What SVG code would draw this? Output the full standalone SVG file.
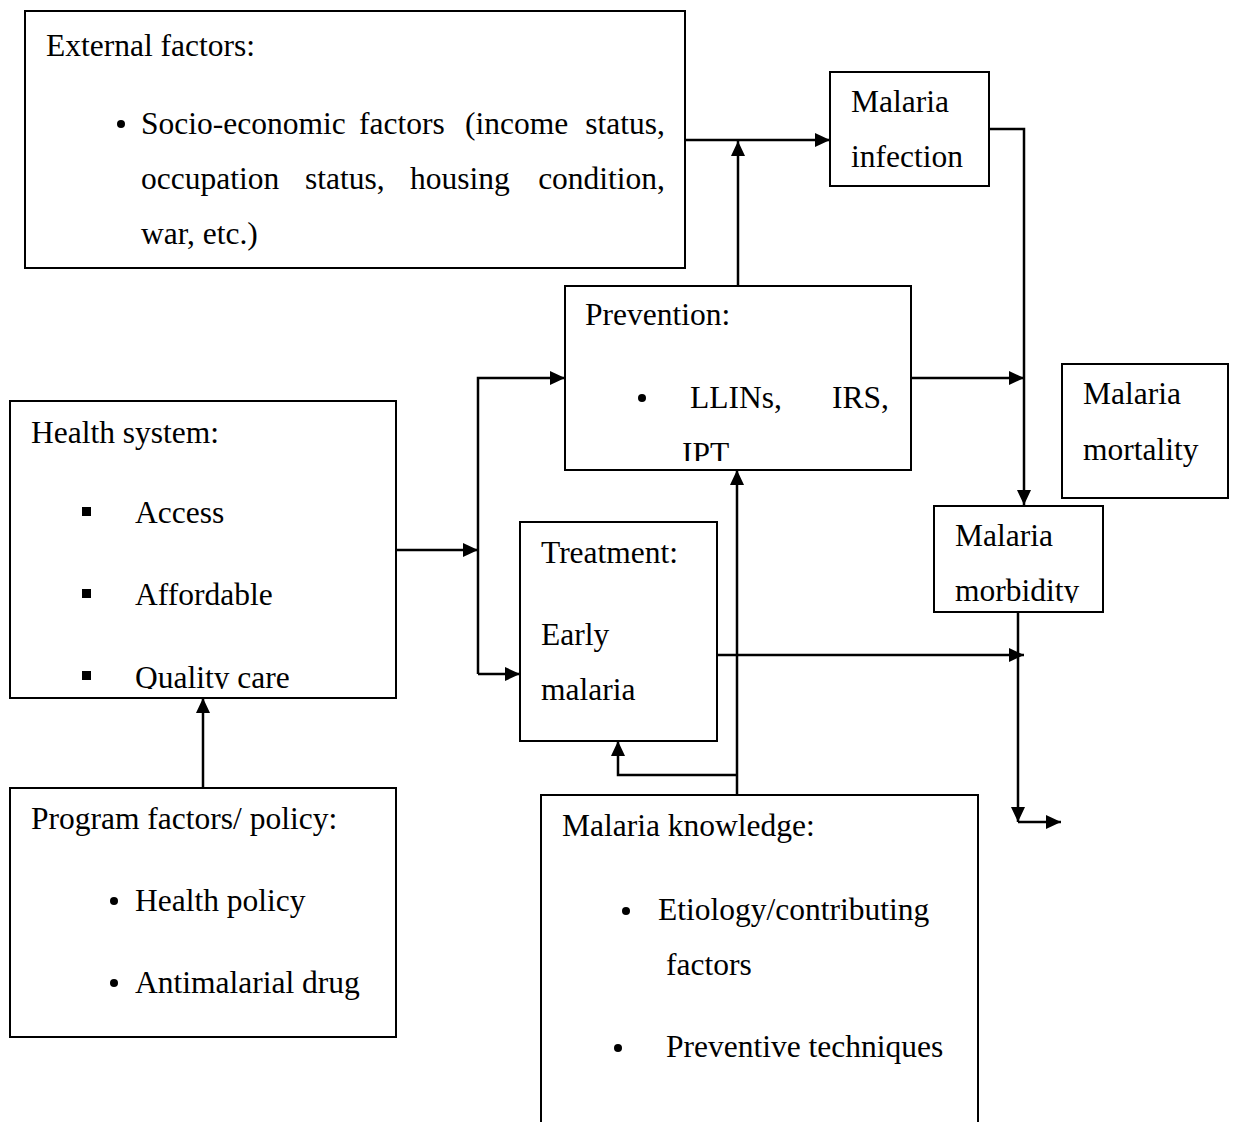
<svg xmlns="http://www.w3.org/2000/svg" width="1235" height="1122" viewBox="0 0 1235 1122">
<style>
.box{fill:#fff;stroke:#000;stroke-width:2}
.t{font-family:"Liberation Serif","Times New Roman",serif;font-size:31.5px;fill:#000}
.e{text-anchor:end}
.c{fill:none;stroke:#000;stroke-width:2.5}
.b{fill:#000}
</style>
<defs>
<marker id="ah" markerUnits="userSpaceOnUse" markerWidth="16" markerHeight="14" refX="15" refY="7" orient="auto">
<path d="M0,0 L15,7 L0,14 z" fill="#000"/>
</marker>
<clipPath id="clipHealth"><rect x="10" y="401" width="386" height="288"/></clipPath>
<clipPath id="clipPrev"><rect x="565" y="286" width="346" height="175"/></clipPath>
<clipPath id="clipMorb"><rect x="934" y="506" width="169" height="97"/></clipPath>
</defs>
<rect width="1235" height="1122" fill="#fff"/>

<g id="connectors">
<path class="c" d="M685,140 H830" marker-end="url(#ah)"/>
<path class="c" d="M738,286 V141" marker-end="url(#ah)"/>
<path class="c" d="M989,129 H1024 V505" marker-end="url(#ah)"/>
<path class="c" d="M911,378 H1024" marker-end="url(#ah)"/>
<path class="c" d="M396,550 H478" marker-end="url(#ah)"/>
<path class="c" d="M478,674 V378 H565" marker-end="url(#ah)"/>
<path class="c" d="M478,674 H520" marker-end="url(#ah)"/>
<path class="c" d="M717,655 H1024" marker-end="url(#ah)"/>
<path class="c" d="M1018,612 V822" marker-end="url(#ah)"/>
<path class="c" d="M1018,822 H1061" marker-end="url(#ah)"/>
<path class="c" d="M737,812 V470" marker-end="url(#ah)"/>
<path class="c" d="M737,775 H618 V741" marker-end="url(#ah)"/>
<path class="c" d="M203,788 V698" marker-end="url(#ah)"/>
</g>

<g id="external">
<rect class="box" x="25" y="11" width="660" height="257"/>
<text class="t" x="46" y="56">External factors:</text>
<circle class="b" cx="121" cy="124" r="4"/>
<text class="t" x="141" y="134">Socio-economic</text>
<text class="t" x="359" y="134">factors</text>
<text class="t" x="465" y="134">(income</text>
<text class="t e" x="665" y="134">status,</text>
<text class="t" x="141" y="189">occupation</text>
<text class="t" x="305" y="189">status,</text>
<text class="t" x="410" y="189">housing</text>
<text class="t e" x="665" y="189">condition,</text>
<text class="t" x="141" y="244">war, etc.)</text>
</g>

<g id="infection">
<rect class="box" x="830" y="72" width="159" height="114"/>
<text class="t" x="851" y="112">Malaria</text>
<text class="t" x="851" y="167">infection</text>
</g>

<g id="prevention">
<rect class="box" x="565" y="286" width="346" height="184"/>
<text class="t" x="585" y="325">Prevention:</text>
<circle class="b" cx="642" cy="398" r="4"/>
<text class="t" x="690" y="408">LLINs,</text>
<text class="t e" x="889" y="408">IRS,</text>
<g clip-path="url(#clipPrev)"><text class="t" x="682" y="464">IPT</text></g>
</g>

<g id="mortality">
<rect class="box" x="1062" y="364" width="166" height="134"/>
<text class="t" x="1083" y="404">Malaria</text>
<text class="t" x="1083" y="460">mortality</text>
</g>

<g id="morbidity">
<rect class="box" x="934" y="506" width="169" height="106"/>
<text class="t" x="955" y="546">Malaria</text>
<g clip-path="url(#clipMorb)"><text class="t" x="955" y="601">morbidity</text></g>
</g>

<g id="health">
<rect class="box" x="10" y="401" width="386" height="297"/>
<text class="t" x="31" y="443">Health system:</text>
<rect class="b" x="82" y="507" width="9" height="9"/>
<text class="t" x="135" y="523">Access</text>
<rect class="b" x="82" y="589" width="9" height="9"/>
<text class="t" x="135" y="605">Affordable</text>
<rect class="b" x="82" y="671" width="9" height="9"/>
<g clip-path="url(#clipHealth)"><text class="t" x="135" y="688">Quality care</text></g>
</g>

<g id="treatment">
<rect class="box" x="520" y="522" width="197" height="219"/>
<text class="t" x="541" y="563">Treatment:</text>
<text class="t" x="541" y="645">Early</text>
<text class="t" x="541" y="700">malaria</text>
</g>

<g id="program">
<rect class="box" x="10" y="788" width="386" height="249"/>
<text class="t" x="31" y="829">Program factors/ policy:</text>
<circle class="b" cx="114" cy="901" r="4"/>
<text class="t" x="135" y="911">Health policy</text>
<circle class="b" cx="114" cy="983" r="4"/>
<text class="t" x="135" y="993">Antimalarial drug</text>
</g>

<g id="knowledge">
<path class="box" d="M541,1130 V795 H978 V1130"/>
<text class="t" x="562" y="836">Malaria knowledge:</text>
<circle class="b" cx="626" cy="911" r="4"/>
<text class="t" x="658" y="920">Etiology/contributing</text>
<text class="t" x="666" y="975">factors</text>
<circle class="b" cx="618" cy="1048" r="4"/>
<text class="t" x="666" y="1057">Preventive techniques</text>
</g>
</svg>
